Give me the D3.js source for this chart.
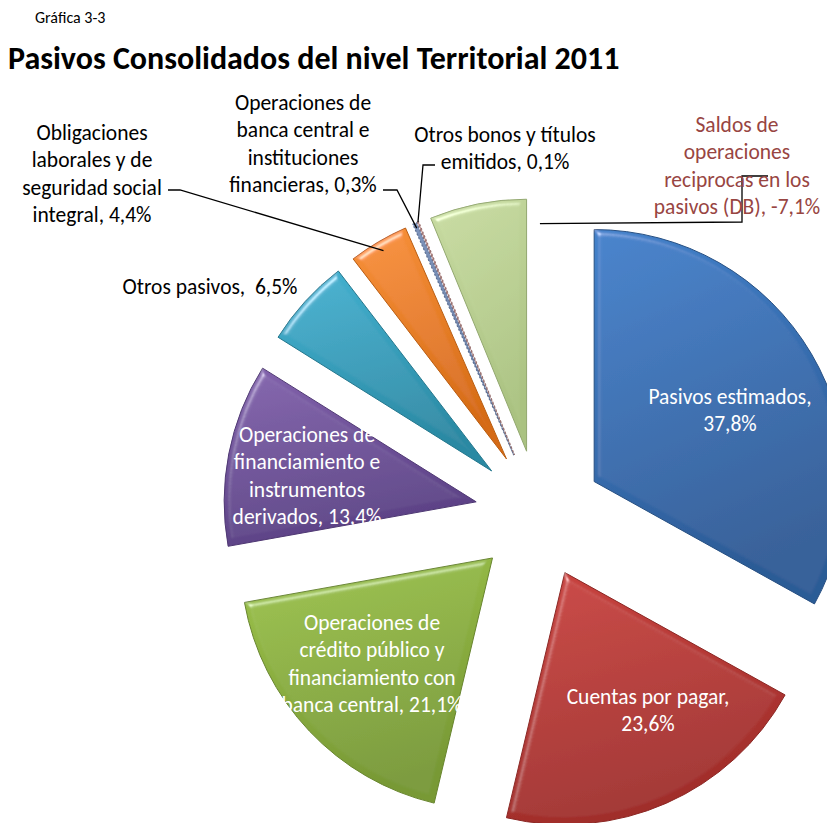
<!DOCTYPE html>
<html>
<head>
<meta charset="utf-8">
<script src="https://cdn.jsdelivr.net/npm/d3@7"></script>
<style>
  body { margin: 0; background: #fff; }
  text { font-family: Carlito, Calibri, Lato, sans-serif; white-space: pre; }
</style>
</head>
<body>
<div id="chart"></div>
<script>
// data (Excel draws the negative share with its absolute size)
const categories = [
  'Pasivos estimados',
  'Cuentas por pagar',
  'Operaciones de crédito público y financiamiento con banca central',
  'Operaciones de financiamiento e instrumentos derivados',
  'Otros pasivos',
  'Obligaciones laborales y de seguridad social integral',
  'Operaciones de banca central e instituciones financieras',
  'Otros bonos y títulos emitidos',
  'Saldos de operaciones reciprocas en los pasivos (DB)'
]
const values = [37.8, 23.6, 21.1, 13.4, 6.5, 4.4, 0.3, 0.1, -7.1]

// how each label is broken into lines, {v} is the formatted value
const labelLines = [
  ['Pasivos estimados,', '{v}'],
  ['Cuentas por pagar,', '{v}'],
  ['Operaciones de', 'crédito público y', 'financiamiento con', 'banca central, {v}'],
  ['Operaciones de', 'financiamiento e', 'instrumentos', 'derivados, {v}'],
  ['Otros pasivos,  {v}'],
  ['Obligaciones', 'laborales y de', 'seguridad social', 'integral, {v}'],
  ['Operaciones de', 'banca central e', 'instituciones', 'financieras, {v}'],
  ['Otros bonos y títulos', 'emitidos, {v}'],
  ['Saldos de', 'operaciones', 'reciprocas en los', 'pasivos (DB), {v}']
]

const sliceColors = [
  ['#4281cb', '#2c5b96'],
  ['#ca4440', '#a02d2a'],
  ['#9dc34b', '#789935'],
  ['#8363ad', '#5b4185'],
  ['#44b2d1', '#2a89a3'],
  ['#f8913a', '#d56b15'],
  ['#7d93ba', '#6a80a8'],
  ['#c49a98', '#b08482'],
  ['#c8dba2', '#aac281']
]

let width = 827
let height = 823
let radius = 252
let explode = 64
let cx = 539
let cy = 514
let fontSize = 21.5
let lineH = 27.3

let fmt = v => d3.format('.1f')(v).replace('−', '-').replace('.', ',') + '%'

let rows = categories.map((c, i) => ({name: c, value: values[i], lines: labelLines[i]}))

let svg = d3.select('#chart')
  .append('svg')
  .attr('width', width)
  .attr('height', height)

let defs = svg.append('defs')

sliceColors.forEach((c, i) => {
  let g = defs.append('linearGradient')
    .attr('id', 'grad' + i)
    .attr('x1', 0).attr('y1', 0)
    .attr('x2', 0.3).attr('y2', 1)
  g.append('stop').attr('offset', '0%').attr('stop-color', c[0])
  g.append('stop').attr('offset', '100%').attr('stop-color', c[1])
})

// soft bevel: light only catches the blurred rim, flat faces stay as they are
let f = defs.append('filter').attr('id', 'bevel')
  .attr('x', '-5%').attr('y', '-5%').attr('width', '110%').attr('height', '110%')
f.append('feGaussianBlur').attr('in', 'SourceAlpha').attr('stdDeviation', 3).attr('result', 'blur')
f.append('feSpecularLighting')
  .attr('in', 'blur').attr('surfaceScale', 5).attr('specularConstant', 0.9)
  .attr('specularExponent', 28).attr('lighting-color', '#ffffff').attr('result', 'spec')
  .append('feDistantLight').attr('azimuth', 235).attr('elevation', 35)
f.append('feComposite').attr('in', 'spec').attr('in2', 'SourceAlpha').attr('operator', 'in').attr('result', 'specOut')
f.append('feComposite').attr('in', 'SourceGraphic').attr('in2', 'specOut')
  .attr('operator', 'arithmetic').attr('k1', 0).attr('k2', 1).attr('k3', 0.5).attr('k4', 0)

// headings
svg.append('text')
  .attr('x', 35).attr('y', 23)
  .attr('font-size', 16)
  .attr('fill', '#000')
  .text('Gráfica 3-3')

svg.append('text')
  .attr('x', 8).attr('y', 69)
  .attr('font-size', 32)
  .attr('font-weight', 'bold')
  .attr('fill', '#000')
  .text('Pasivos Consolidados del nivel Territorial 2011')

let pie = d3.pie().sort(null).value(d => Math.abs(d.value))
let arcs = pie(rows)
let arc = d3.arc().innerRadius(0).outerRadius(radius)

function dir(a) { return [Math.sin(a), -Math.cos(a)] }
function mid(d) { return (d.startAngle + d.endAngle) / 2 }
// tip of an exploded slice
function tip(d) {
  let u = dir(mid(d))
  return [cx + u[0] * explode, cy + u[1] * explode]
}
function pointOn(d, angle, r) {
  let t = tip(d), u = dir(angle)
  return [t[0] + u[0] * r, t[1] + u[1] * r]
}

let slices = svg.append('g')

slices.selectAll('path')
  .data(arcs)
  .enter()
  .append('path')
  .attr('transform', d => `translate(${tip(d)})`)
  .attr('d', arc)
  .attr('fill', d => `url(#grad${d.index})`)
  .attr('stroke', d => d3.color(sliceColors[d.index][1]).darker(0.4))
  .attr('stroke-width', d => d.value < 1 ? 1.2 : 1)
  .attr('stroke-dasharray', d => d.value < 1 ? '2,2' : null)
  .attr('filter', d => d.value < 1 ? null : 'url(#bevel)')

function labelText(d) {
  return d.data.lines.map(l => l.replace('{v}', fmt(d.data.value)))
}

// label anchors: centre x and first baseline
let labelPos = [
  {i: 0, x: 730, y: 404, color: '#fff'},
  {i: 1, x: 648, y: 704, color: '#fff'},
  {i: 2, x: 372, y: 630, color: '#fff'},
  {i: 3, x: 307, y: 442, color: '#fff'},
  {i: 4, x: 210, y: 294, color: '#000'},
  {i: 5, x: 92, y: 140, color: '#000', lead: {at: 0.5, r: 0.96, elbow: [[168, 190], [180, 190]]}},
  {i: 6, x: 303, y: 110, color: '#000', lead: {at: 0.5, r: 0.98, elbow: [[383, 190], [397, 190]]}},
  {i: 7, x: 505, y: 142, color: '#000', lead: {at: 0.5, r: 1.0, elbow: [[435, 165], [423, 165]]}},
  {i: 8, x: 737, y: 132, color: '#984542', lead: {at: 1.15, r: 0.905, elbow: [[768, 176], [742, 176], [742, 222]]}}
]

labelPos.forEach(o => {
  let d = arcs[o.i]
  let lines = labelText(d)
  if (o.lead) {
    let a = d.startAngle + (d.endAngle - d.startAngle) * o.lead.at
    let end = pointOn(d, a, radius * o.lead.r)
    svg.append('path')
      .attr('d', d3.line()(o.lead.elbow.concat([end])))
      .attr('fill', 'none')
      .attr('stroke', '#000')
      .attr('stroke-width', 1.3)
  }
  let t = svg.append('text')
    .attr('text-anchor', 'middle')
    .attr('font-size', fontSize)
    .attr('fill', o.color)
  lines.forEach((l, k) => {
    t.append('tspan')
      .attr('x', o.x)
      .attr('y', o.y + k * lineH)
      .text(l)
  })
})
</script>
</body>
</html>
